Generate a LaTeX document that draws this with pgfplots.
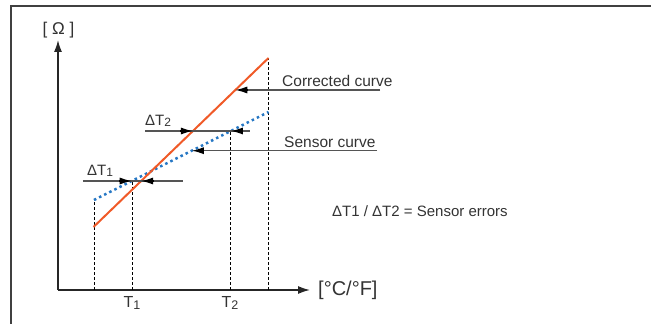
\documentclass[border=0pt]{standalone}
\usepackage{pgfplots}
\pgfplotsset{compat=1.18}
\usepackage{fontspec}
\setmainfont{Liberation Sans}
\usetikzlibrary{arrows.meta}
\definecolor{corr}{HTML}{F05A28}
\definecolor{sens}{HTML}{2677C4}
\definecolor{txt}{HTML}{333333}
\definecolor{annot}{HTML}{555555}
\newcommand{\fs}[1]{\fontsize{#1}{#1}\selectfont}
\tikzset{hd/.style={black, line width=1.3pt, -{Latex[length=12pt,width=7pt]}}}
\begin{document}
\begin{tikzpicture}
\begin{axis}[
  scale only axis, width=252pt, height=250pt,
  xmin=58, xmax=310, ymin=34, ymax=284,
  axis lines=left,
  axis line style={line width=1.5pt, draw=black!85, -{Latex[length=12pt,width=8pt]}},
  xtick=\empty, ytick=\empty,
  clip=false,
]
% frame
\draw[line width=1.5pt, draw=black!75] (axis cs:11,0) -- (axis cs:11,318) -- (axis cs:651,318);
\coordinate (BL) at (axis cs:0,0);
\coordinate (TR) at (axis cs:651,324);

% dashed projections
\addplot[black, line width=0.9pt, dash pattern=on 3pt off 2pt] coordinates {(94,34) (94,124)};
\addplot[black, line width=0.9pt, dash pattern=on 3pt off 2pt] coordinates {(132,34) (132,143)};
\addplot[black, line width=0.9pt, dash pattern=on 3pt off 2pt] coordinates {(230,34) (230,193)};
\addplot[black, line width=0.9pt, dash pattern=on 3pt off 2pt] coordinates {(268.5,34) (268.5,266)};

% sensor curve (dotted) and corrected curve
\addplot[sens, line width=2.5pt, dash pattern=on 2.5pt off 3.2pt] coordinates {(94,124) (268.5,212)};
\addplot[corr, line width=2pt] coordinates {(93.5,97) (268.5,266)};

% Delta T1
\draw[annot, line width=1.3pt] (83,143) -- (183,143);
\draw[hd] (119,143) -- (131.7,143);
\draw[hd] (154,143) -- (141.1,143);
% Delta T2
\draw[annot, line width=1.3pt] (145,193) -- (250,193);
\draw[hd] (180,193) -- (192.9,193);
\draw[hd] (242,193) -- (230.9,193);
% pointer lines
\draw[annot, line width=1.3pt] (380,234) -- (247,234);
\draw[hd] (248,234) -- (235.3,234);
\draw[annot, line width=1.3pt] (377,173.3) -- (203,173.3);
\draw[hd] (204,173.3) -- (191.8,173.3);

% texts
\node[anchor=base west, inner sep=0, text=txt, font=\fs{15.5}] at (282,237.5) {Corrected curve};
\node[anchor=base west, inner sep=0, text=txt, font=\fs{15.5}] at (284,176.5) {Sensor curve};
\node[anchor=base west, inner sep=0, text=txt, font=\fs{15}] at (332,107) {ΔT1 / ΔT2 = Sensor errors};
\node[anchor=base west, inner sep=0, text=txt, font=\fs{15}] at (87,148.7) {ΔT{\fs{12}\raisebox{-1pt}{1}}};
\node[anchor=base west, inner sep=0, text=txt, font=\fs{15}] at (145,198) {ΔT{\fs{12}\raisebox{-1pt}{2}}};
\node[anchor=base, inner sep=0, text=txt, font=\fs{16}] at (132,16) {T{\fs{12.5}\raisebox{-1pt}{1}}};
\node[anchor=base, inner sep=0, text=txt, font=\fs{16}] at (230,16) {T{\fs{12.5}\raisebox{-1pt}{2}}};
\node[anchor=base, inner sep=0, text=txt, font=\fs{17}] at (58.5,289) {[ Ω ]};
\node[anchor=base west, inner sep=0, text=txt, font=\fs{20}] at (318,28) {[°C/°F]};
\end{axis}
\pgfresetboundingbox
\path (BL) rectangle (TR);
\end{tikzpicture}
\end{document}
